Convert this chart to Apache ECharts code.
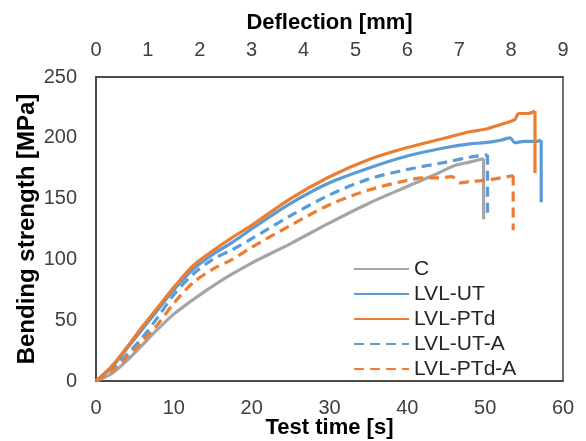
<!DOCTYPE html>
<html>
<head>
<meta charset="utf-8">
<script src="https://cdn.jsdelivr.net/npm/echarts@6/dist/echarts.min.js"></script>
<style>html,body{margin:0;padding:0;background:#fff}#c{width:586px;height:441px}</style>
</head>
<body>
<div id="c"></div>
<script>
var seriesNames = ['C', 'LVL-UT', 'LVL-PTd', 'LVL-UT-A', 'LVL-PTd-A'];

var cTime  = [0, 2, 4, 6, 8, 10, 12.5, 15, 17.5, 20, 25, 30, 35, 40, 44, 46, 48, 49.8, 49.8];
var cValue = [0, 6, 17, 30, 43, 55, 67, 78, 88, 97, 113, 130, 146, 160, 171, 177, 180, 183, 133];

var utTime  = [0, 2, 4, 6, 8, 10, 12.5, 15, 17.5, 20, 25, 30, 35, 40, 45, 48, 50, 52, 53.2, 53.8, 55, 56.5, 57.2, 57.2];
var utValue = [0, 11, 27, 43, 59, 75, 92, 104, 114, 125, 146, 163, 175, 185, 192, 195, 196, 198, 200, 196, 197, 197, 198, 147];

var ptdTime  = [0, 2, 4, 6, 8, 10, 12.5, 15, 17.5, 20, 25, 30, 35, 40, 45, 48, 50, 52, 53.8, 54.3, 55.5, 56.4, 56.4];
var ptdValue = [0, 12, 28, 45, 61, 77, 95, 107, 118, 128, 150, 168, 182, 192, 200, 205, 207, 211, 215, 220, 220, 222, 171];

var utaTime  = [0, 2, 4, 6, 8, 10, 12.5, 15, 17.5, 20, 25, 30, 35, 40, 45, 48, 50.3, 50.3];
var utaValue = [0, 9, 22, 36, 53, 71, 88, 100, 108, 117, 136, 153, 166, 174, 180, 184, 186, 136];

var ptdaTime  = [0, 2, 4, 6, 8, 10, 12.5, 15, 17.5, 20, 25, 30, 35, 40, 42, 44, 45.7, 46.8, 48, 50, 52, 53.6, 53.6];
var ptdaValue = [0, 8, 20, 33, 47, 64, 81, 92, 100, 110, 128, 145, 157, 165, 167, 167, 168, 163, 164, 165, 167, 169, 124];

var timeTicks = [0, 10, 20, 30, 40, 50, 60];
var deflTicks = [0, 1, 2, 3, 4, 5, 6, 7, 8, 9];
var strengthTicks = [0, 50, 100, 150, 200, 250];

function pairs(t, v) { return t.map(function (x, i) { return [x, v[i]]; }); }

var colors = ['#A5A5A5', '#5B9BD5', '#ED7D31', '#5B9BD5', '#ED7D31'];
var dashes = ['solid', 'solid', 'solid', [10, 6], [10, 6]];
var dataSets = [pairs(cTime, cValue), pairs(utTime, utValue), pairs(ptdTime, ptdValue), pairs(utaTime, utaValue), pairs(ptdaTime, ptdaValue)];

var series = [];
seriesNames.forEach(function (n, i) {
  var d = dataSets[i];
  var style = {color: colors[i], width: 3.2, type: dashes[i]};
  // loading curve (smooth)
  series.push({
    name: n, type: 'line', data: d.slice(0, d.length - 1),
    showSymbol: false, symbol: 'none', smooth: 0.3,
    lineStyle: style, itemStyle: {color: colors[i]}, z: 2 + i
  });
  // failure drop (straight)
  series.push({
    name: n, type: 'line', data: d.slice(d.length - 2),
    showSymbol: false, symbol: 'none', smooth: false,
    lineStyle: style, itemStyle: {color: colors[i]}, z: 2 + i
  });
});

var font = 'Liberation Sans, Arial, sans-serif';
var chart = echarts.init(document.getElementById('c'), null, {renderer: 'canvas'});
chart.setOption({
  animation: false,
  backgroundColor: '#fff',
  grid: {left: 96, right: 23, top: 77, bottom: 60, outerBoundsMode: 'none', containLabel: false,
         show: true, borderColor: '#404040', borderWidth: 1.5, backgroundColor: 'transparent'},
  legend: {
    orient: 'vertical', left: 348, top: 251.5, itemGap: 0, itemWidth: 55, itemHeight: 14,
    data: seriesNames,
    itemStyle: {opacity: 0},
    textStyle: {fontFamily: font, fontSize: 21, color: '#262626', lineHeight: 25}
  },
  xAxis: [{
    type: 'value', position: 'bottom', min: timeTicks[0], max: timeTicks[timeTicks.length - 1], interval: 10,
    name: 'Test time [s]', nameLocation: 'middle', nameGap: 36, nameMoveOverlap: false,
    nameTextStyle: {fontFamily: font, fontSize: 22, fontWeight: 'bold', color: '#000'},
    axisLine: {show: true, lineStyle: {color: '#404040', width: 1.5}},
    axisTick: {show: false}, splitLine: {show: false},
    axisLabel: {fontFamily: font, fontSize: 20, color: '#404040', margin: 17}
  }, {
    type: 'value', position: 'top', min: deflTicks[0], max: deflTicks[deflTicks.length - 1], interval: 1,
    name: 'Deflection [mm]', nameLocation: 'middle', nameGap: 43, nameMoveOverlap: false,
    nameTextStyle: {fontFamily: font, fontSize: 22, fontWeight: 'bold', color: '#000'},
    axisLine: {show: true, lineStyle: {color: '#404040', width: 1.5}},
    axisTick: {show: false}, splitLine: {show: false},
    axisLabel: {fontFamily: font, fontSize: 20, color: '#404040', margin: 17}
  }],
  yAxis: {
    type: 'value', min: strengthTicks[0], max: strengthTicks[strengthTicks.length - 1], interval: 50,
    name: 'Bending strength [MPa]', nameLocation: 'middle', nameGap: 57, nameMoveOverlap: false,
    nameTextStyle: {fontFamily: font, fontSize: 24, fontWeight: 'bold', color: '#000'},
    axisLine: {show: true, lineStyle: {color: '#404040', width: 1.5}},
    axisTick: {show: false}, splitLine: {show: false},
    axisLabel: {fontFamily: font, fontSize: 20, color: '#404040', margin: 19}
  },
  series: series
});
</script>
</body>
</html>
